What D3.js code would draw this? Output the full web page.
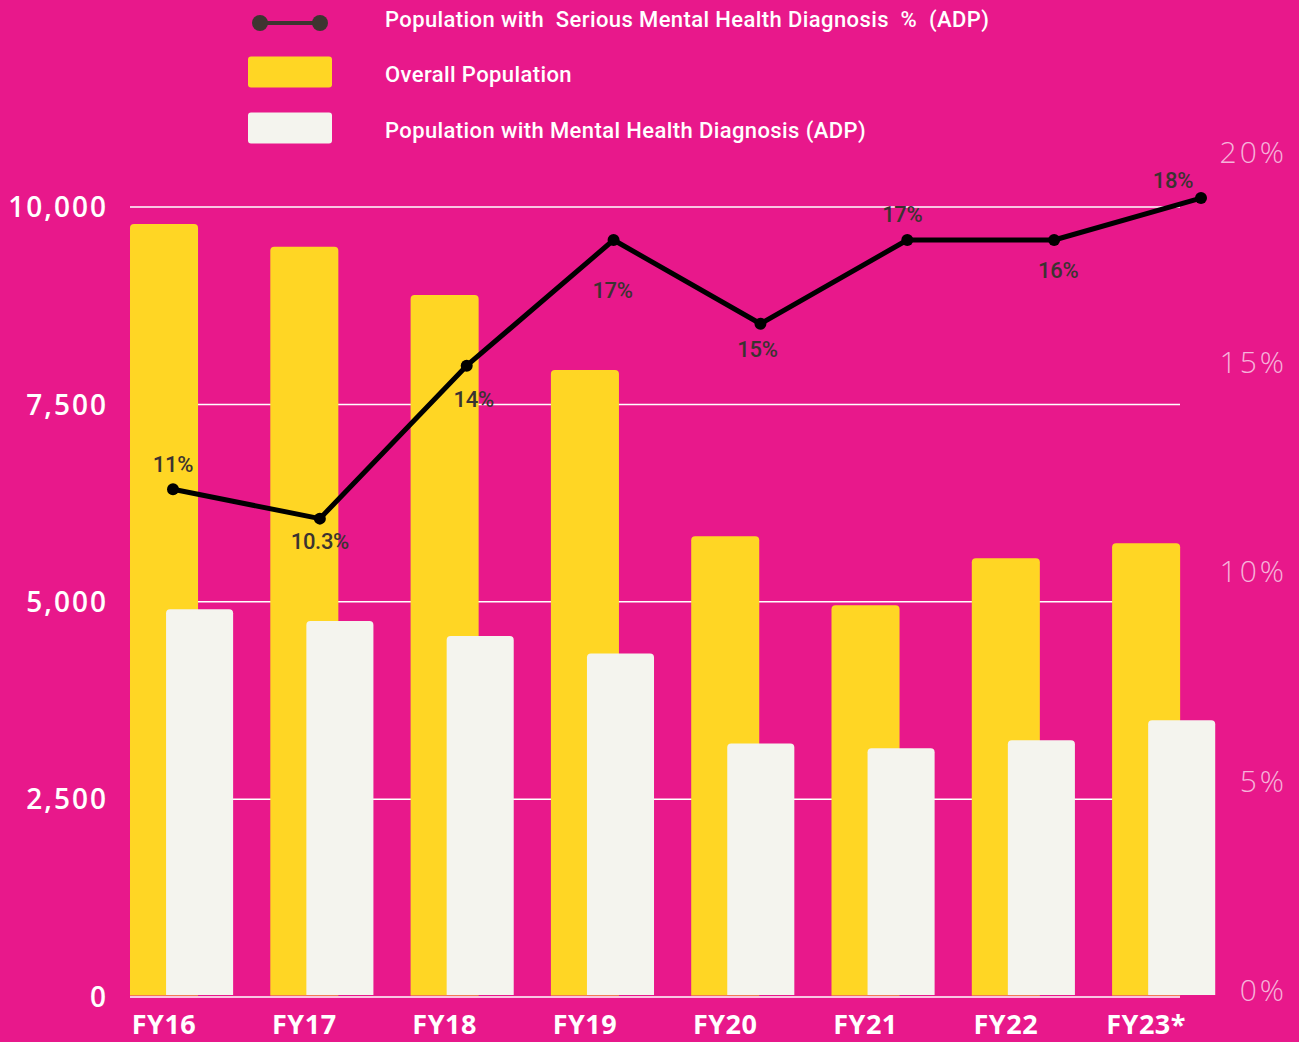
<!DOCTYPE html>
<html>
<head>
<meta charset="utf-8">
<script src="https://cdn.jsdelivr.net/npm/d3@7"></script>
<style>
  html, body { margin: 0; padding: 0; background: #e8188b; }
  svg { display: block; }
</style>
</head>
<body>
<div id="chart"></div>
<script>
const WIDTH = 1299;
const HEIGHT = 1042;

const PINK = "#e8188b";
const YELLOW = "#ffd624";
const OFFWHITE = "#f4f4ee";
const DARK = "#3b3331";

// data
const categories = ["FY16", "FY17", "FY18", "FY19", "FY20", "FY21", "FY22", "FY23*"];
const overallPopulation = [9785, 9495, 8885, 7935, 5830, 4955, 5550, 5740];
const mentalHealthPopulation = [4905, 4755, 4565, 4345, 3205, 3145, 3245, 3500];
const seriousPct = [11.95, 11.25, 14.9, 17.9, 15.9, 17.9, 17.9, 18.9];
const seriousLabels = ["11%", "10.3%", "14%", "17%", "15%", "17%", "16%", "18%"];
const leftTicks = [0, 2500, 5000, 7500, 10000];
const rightTicks = [0, 5, 10, 15, 20];
const legendItems = [
  "Population with  Serious Mental Health Diagnosis  %  (ADP)",
  "Overall Population",
  "Population with Mental Health Diagnosis (ADP)",
];

// where each line label sits relative to its point
const labelOffsets = [
  [0, -17], [0, 30], [7, 41], [-1, 58], [-3, 33], [-5, -18], [4, 38], [-28, -10],
];

const svg = d3
  .select("#chart")
  .append("svg")
  .attr("width", WIDTH)
  .attr("height", HEIGHT)
  .style("background", PINK);

const x = d3.scaleBand().domain(categories).range([130, 130 + 8 * 140.3]);
const bw = x.bandwidth();
const yellowW = bw * 0.485;
const whiteX = bw * 0.257;
const whiteW = bw * 0.478;

const y = d3.scaleLinear().domain([0, 10000]).range([996.5, 207]);
const yRight = d3.scaleLinear().domain([0, 20]).range([990, 152]);
const xLine = d3.scalePoint().domain(categories).range([173, 1201]);

// gridlines
svg
  .append("g")
  .selectAll("line")
  .data(leftTicks.filter((d) => d > 0))
  .join("line")
  .attr("x1", 130)
  .attr("x2", 1180)
  .attr("y1", (d) => y(d))
  .attr("y2", (d) => y(d))
  .attr("stroke", "#fff")
  .attr("stroke-width", 1.5);

// left axis
const leftAxis = svg
  .append("g")
  .attr("transform", "translate(108,0)")
  .call(d3.axisLeft(y).tickValues(leftTicks).tickSize(0).tickPadding(0).tickFormat(d3.format(",")));
leftAxis.select(".domain").remove();
leftAxis
  .selectAll("text")
  .attr("fill", "#fff")
  .attr("font-family", "Open Sans")
  .attr("font-weight", 600)
  .attr("font-size", 28)
  .attr("letter-spacing", 2)
  .attr("dy", "0.35em");

// right axis
const rightAxis = svg
  .append("g")
  .attr("transform", "translate(1287,0)")
  .call(d3.axisLeft(yRight).tickValues(rightTicks).tickSize(0).tickPadding(0).tickFormat((d) => d + "%"));
rightAxis.select(".domain").remove();
rightAxis
  .selectAll("text")
  .attr("fill", "#f6b3da")
  .attr("font-family", "Open Sans")
  .attr("font-weight", 300)
  .attr("font-size", 30)
  .attr("letter-spacing", 3)
  .attr("dy", "0.35em");

function topRounded(x0, y0, w, h, r) {
  return `M${x0},${y0 + h}V${y0 + r}Q${x0},${y0} ${x0 + r},${y0}H${x0 + w - r}Q${x0 + w},${y0} ${x0 + w},${y0 + r}V${y0 + h}Z`;
}

// bars
svg
  .append("g")
  .selectAll("path")
  .data(categories)
  .join("path")
  .attr("fill", YELLOW)
  .attr("d", (c, i) => topRounded(x(c), y(overallPopulation[i]), yellowW, y(0) - 1 - y(overallPopulation[i]), 4));

svg
  .append("g")
  .selectAll("path")
  .data(categories)
  .join("path")
  .attr("fill", OFFWHITE)
  .attr("d", (c, i) => topRounded(x(c) + whiteX, y(mentalHealthPopulation[i]), whiteW, y(0) - 1.5 - y(mentalHealthPopulation[i]), 4));

// baseline
svg
  .append("line")
  .attr("x1", 130)
  .attr("x2", 1180)
  .attr("y1", y(0) + 0.5)
  .attr("y2", y(0) + 0.5)
  .attr("stroke", "#fff")
  .attr("stroke-width", 1.5);

// x labels
svg
  .append("g")
  .selectAll("text")
  .data(categories)
  .join("text")
  .attr("x", (c) => x(c) + yellowW / 2)
  .attr("y", 1034)
  .attr("text-anchor", "middle")
  .attr("fill", "#fff")
  .attr("font-family", "Open Sans")
  .attr("font-weight", 700)
  .attr("font-size", 27)
  .attr("letter-spacing", 0.5)
  .text((c) => c);

// line
const line = d3
  .line()
  .x((d, i) => xLine(categories[i]))
  .y((d) => yRight(d));

svg
  .append("path")
  .datum(seriousPct)
  .attr("fill", "none")
  .attr("stroke", "#000")
  .attr("stroke-width", 5)
  .attr("stroke-linejoin", "round")
  .attr("d", line);

svg
  .append("g")
  .selectAll("circle")
  .data(seriousPct)
  .join("circle")
  .attr("cx", (d, i) => xLine(categories[i]))
  .attr("cy", (d) => yRight(d))
  .attr("r", 6)
  .attr("fill", "#000");

svg
  .append("g")
  .selectAll("text")
  .data(seriousPct)
  .join("text")
  .attr("x", (d, i) => xLine(categories[i]) + labelOffsets[i][0])
  .attr("y", (d, i) => yRight(d) + labelOffsets[i][1])
  .attr("text-anchor", "middle")
  .attr("fill", DARK)
  .attr("font-family", "Roboto")
  .attr("font-weight", 500)
  .attr("font-size", 22)
  .attr("letter-spacing", -0.3)
  .text((d, i) => seriousLabels[i]);

// legend
const legend = svg.append("g");
const rowY = [23, 72, 128];

legend
  .append("line")
  .attr("x1", 260)
  .attr("x2", 320)
  .attr("y1", rowY[0])
  .attr("y2", rowY[0])
  .attr("stroke", "#3d3530")
  .attr("stroke-width", 4);
legend
  .selectAll(".dot")
  .data([260, 320])
  .join("circle")
  .attr("class", "dot")
  .attr("cx", (d) => d)
  .attr("cy", rowY[0])
  .attr("r", 8)
  .attr("fill", "#3d3530");

legend
  .selectAll(".swatch")
  .data([YELLOW, OFFWHITE])
  .join("rect")
  .attr("class", "swatch")
  .attr("x", 248)
  .attr("y", (d, i) => rowY[i + 1] - 15.5)
  .attr("width", 84)
  .attr("height", 31)
  .attr("rx", 3)
  .attr("fill", (d) => d);

legend
  .selectAll(".label")
  .data(legendItems)
  .join("text")
  .attr("class", "label")
  .attr("x", 385)
  .attr("y", (d, i) => (i === 0 ? 27 : rowY[i] + 10))
  .attr("fill", "#fff")
  .attr("font-family", "Roboto")
  .attr("font-weight", 500)
  .attr("font-size", 22)
  .attr("letter-spacing", 0.4)
  .attr("xml:space", "preserve")
  .style("white-space", "pre")
  .text((d) => d);
</script>
</body>
</html>
